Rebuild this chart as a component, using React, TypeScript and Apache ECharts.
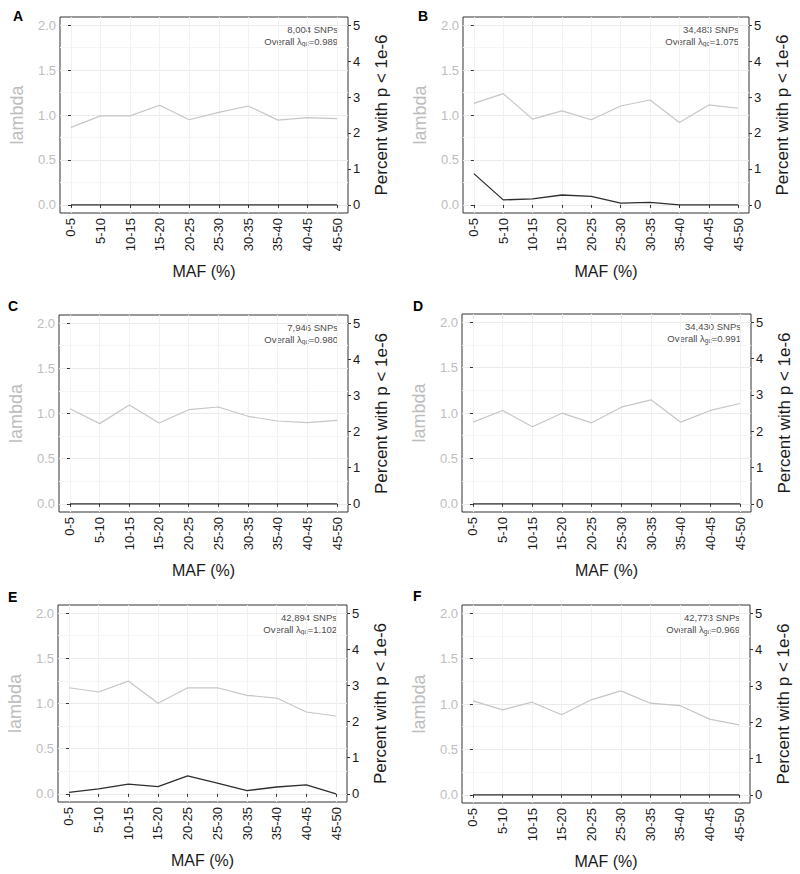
import React, { useEffect, useRef } from 'react';
import * as echarts from 'echarts';

const categories = ['0-5', '5-10', '10-15', '15-20', '20-25', '25-30', '30-35', '35-40', '40-45', '45-50'];

const lambdaA = [0.862, 0.99, 0.99, 1.108, 0.947, 1.03, 1.1, 0.943, 0.97, 0.96];
const pctA = [0, 0, 0, 0, 0, 0, 0, 0, 0, 0];
const lambdaB = [1.13, 1.237, 0.954, 1.046, 0.947, 1.1, 1.167, 0.917, 1.112, 1.075];
const pctB = [0.87, 0.14, 0.165, 0.275, 0.24, 0.05, 0.07, 0, 0, 0];
const lambdaC = [1.053, 0.888, 1.094, 0.895, 1.042, 1.072, 0.969, 0.917, 0.899, 0.925];
const pctC = [0, 0, 0, 0, 0, 0, 0, 0, 0, 0];
const lambdaD = [0.899, 1.028, 0.848, 0.998, 0.892, 1.064, 1.145, 0.899, 1.028, 1.105];
const pctD = [0, 0, 0, 0, 0, 0, 0, 0, 0, 0];
const lambdaE = [1.174, 1.127, 1.248, 1.002, 1.174, 1.174, 1.09, 1.06, 0.906, 0.862];
const pctE = [0.04, 0.14, 0.27, 0.2, 0.5, 0.3, 0.09, 0.19, 0.25, 0];
const lambdaF = [1.035, 0.936, 1.02, 0.881, 1.046, 1.145, 1.009, 0.983, 0.833, 0.771];
const pctF = [0, 0, 0, 0, 0, 0, 0, 0, 0, 0];

const panelLetters = ['A', 'B', 'C', 'D', 'E', 'F'];
const snpCounts = ['8,004', '34,483', '7,946', '34,430', '42,894', '42,773'];
const lambdaGc = ['0.989', '1.075', '0.980', '0.991', '1.102', '0.969'];

const lambdaTicks = [0, 0.5, 1, 1.5, 2];
const pctTicks = [0, 1, 2, 3, 4, 5];

const lambdaSeries = [lambdaA, lambdaB, lambdaC, lambdaD, lambdaE, lambdaF];
const pctSeries = [pctA, pctB, pctC, pctD, pctE, pctF];

// layout (pixels)
const boxes = [
  { left: 60, top: 17, width: 288, height: 196 },
  { left: 463, top: 17, width: 286, height: 196 },
  { left: 59, top: 315, width: 289, height: 197 },
  { left: 462, top: 314, width: 289, height: 198 },
  { left: 58, top: 605, width: 289, height: 197 },
  { left: 462, top: 605, width: 288, height: 198 },
];
const letterPos = [
  { x: 13, y: 16 },
  { x: 418, y: 16 },
  { x: 8, y: 306 },
  { x: 413, y: 306 },
  { x: 8, y: 597 },
  { x: 413, y: 596 },
];

const FONT = '"Liberation Sans", Arial, Helvetica, sans-serif';
const DARK = '#1a1a1a';
const GRAYTXT = '#bdbdbd';
const NOTE = '#4d4d4d';

function buildOption() {
  const idx = categories.map((_, i) => i);
  const grid: any[] = [];
  const xAxis: any[] = [];
  const yAxis: any[] = [];
  const series: any[] = [];
  const graphic: any[] = [];

  boxes.forEach((b, i) => {
    grid.push({
      left: b.left,
      top: b.top,
      width: b.width,
      height: b.height,
      show: true,
      borderColor: '#333333',
      borderWidth: 1,
      backgroundColor: 'transparent',
    });
    xAxis.push({
      gridIndex: i,
      type: 'value',
      min: -0.37,
      max: 9.37,
      axisLine: { show: false },
      axisTick: { show: true, length: 3, customValues: idx, lineStyle: { color: '#333333' } },
      axisLabel: {
        customValues: idx,
        rotate: 90,
        margin: 5,
        fontSize: 13,
        color: DARK,
        fontFamily: FONT,
        formatter: (v: number) => categories[Math.round(v)],
      },
      splitLine: { show: true, lineStyle: { color: '#f2f2f2', width: 1 } },
      name: 'MAF (%)',
      nameLocation: 'middle',
      nameGap: 50,
      nameTextStyle: { fontSize: 16, color: DARK, fontFamily: FONT },
    });
    yAxis.push({
      gridIndex: i,
      type: 'value',
      position: 'left',
      min: -0.09,
      max: 2.09,
      axisLine: { show: false },
      axisTick: { show: true, length: 3, customValues: lambdaTicks, lineStyle: { color: '#333333' } },
      axisLabel: {
        customValues: lambdaTicks,
        margin: 4,
        fontSize: 13,
        color: GRAYTXT,
        fontFamily: FONT,
        formatter: (v: number) => v.toFixed(1),
      },
      splitLine: { show: true, lineStyle: { color: '#ebebeb', width: 1 } },
      minorTick: { show: false, splitNumber: 2 },
      minorSplitLine: { show: true, lineStyle: { color: '#f6f6f6', width: 1 } },
      name: 'lambda',
      nameLocation: 'middle',
      nameRotate: 90,
      nameGap: 34,
      nameTextStyle: { fontSize: 18, color: GRAYTXT, fontFamily: FONT },
    });
    yAxis.push({
      gridIndex: i,
      type: 'value',
      position: 'right',
      min: -0.225,
      max: 5.225,
      axisLine: { show: false },
      axisTick: { show: true, length: 3, customValues: pctTicks, lineStyle: { color: '#333333' } },
      axisLabel: {
        customValues: pctTicks,
        margin: 5,
        fontSize: 13,
        color: DARK,
        fontFamily: FONT,
        formatter: (v: number) => String(v),
      },
      splitLine: { show: false },
      name: 'Percent with p < 1e-6',
      nameLocation: 'middle',
      nameRotate: 90,
      nameGap: 25,
      nameTextStyle: { fontSize: 17, color: DARK, fontFamily: FONT },
    });
    series.push({
      type: 'line',
      xAxisIndex: i,
      yAxisIndex: 2 * i,
      data: lambdaSeries[i].map((v, k) => [k, v]),
      showSymbol: false,
      silent: true,
      lineStyle: { color: '#c6c6c6', width: 1.2 },
    });
    series.push({
      type: 'line',
      xAxisIndex: i,
      yAxisIndex: 2 * i + 1,
      data: pctSeries[i].map((v, k) => [k, v]),
      showSymbol: false,
      silent: true,
      lineStyle: { color: '#2e2e2e', width: 1.3 },
    });
    graphic.push({
      type: 'text',
      x: letterPos[i].x,
      y: letterPos[i].y,
      style: {
        text: panelLetters[i],
        fontSize: 14,
        fontWeight: 'bold',
        fontFamily: FONT,
        fill: '#000000',
        verticalAlign: 'middle',
      },
    });
    const rx = b.left + b.width - 10;
    graphic.push({
      type: 'text',
      x: rx,
      y: b.top + 12,
      style: {
        text: snpCounts[i] + ' SNPs',
        fontSize: 9.5,
        fontFamily: FONT,
        fill: NOTE,
        align: 'right',
        verticalAlign: 'middle',
      },
    });
    graphic.push({
      type: 'text',
      x: rx,
      y: b.top + 24,
      style: {
        text: 'Overall λ{s|gc}=' + lambdaGc[i],
        fontSize: 9.5,
        fontFamily: FONT,
        fill: NOTE,
        align: 'right',
        verticalAlign: 'middle',
        rich: {
          s: { fontSize: 6.5, fill: NOTE, fontFamily: FONT, padding: [4, 0, 0, 0] },
        },
      },
    });
  });

  return {
    animation: false,
    backgroundColor: '#ffffff',
    textStyle: { fontFamily: FONT },
    grid,
    xAxis,
    yAxis,
    series,
    graphic,
  };
}

export default function App() {
  const ref = useRef<HTMLDivElement>(null);
  useEffect(() => {
    document.body.style.margin = '0';
    const chart = echarts.init(ref.current as HTMLDivElement, null, { renderer: 'svg' });
    chart.setOption(buildOption() as any);
    return () => chart.dispose();
  }, []);
  return <div ref={ref} style={{ width: 800, height: 874 }} />;
}
